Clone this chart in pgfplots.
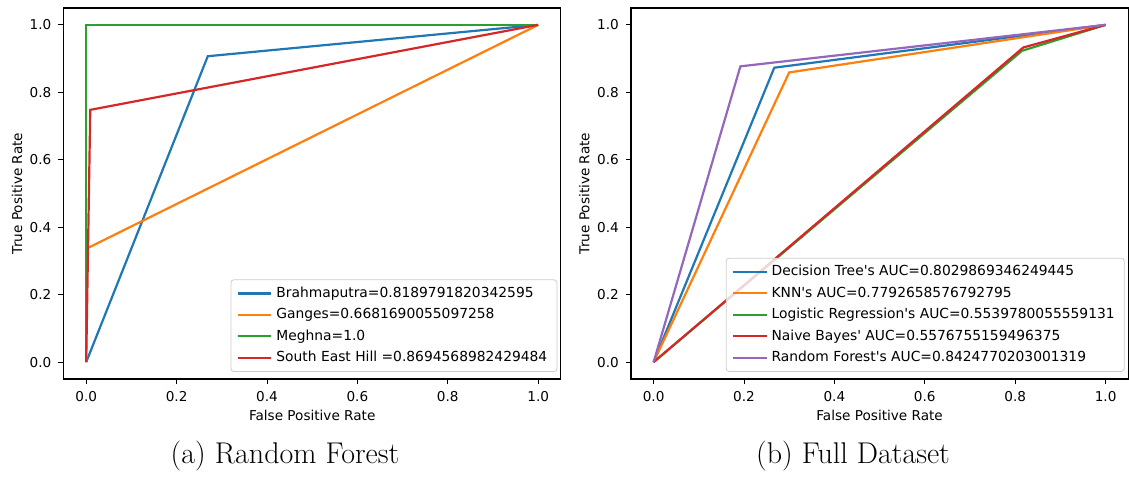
\documentclass[border=0pt]{standalone}
\usepackage{fontspec}
\usepackage{pgfplots}
\pgfplotsset{compat=1.18}
\newfontfamily\dv{DejaVu Sans}
\definecolor{c0}{HTML}{1F77B4}
\definecolor{c1}{HTML}{FF7F0E}
\definecolor{c2}{HTML}{2CA02C}
\definecolor{c3}{HTML}{D62728}
\definecolor{c4}{HTML}{9467BD}
\pgfplotsset{rocstyle/.style={
  scale only axis, width=248.6pt, height=185.5pt,
  xmin=-0.05, xmax=1.05, ymin=-0.05, ymax=1.05,
  xtick={0,0.2,0.4,0.6,0.8,1}, ytick={0,0.2,0.4,0.6,0.8,1},
  /pgf/number format/assume math mode=true,
  ticklabel style={font=\dv\fontsize{6.8}{8}\selectfont,
    /pgf/number format/fixed, /pgf/number format/fixed zerofill, /pgf/number format/precision=1},
  tick align=outside, xtick pos=bottom, ytick pos=left,
  major tick length=2.6pt,
  axis line style={line width=0.6pt},
  every tick/.style={black, line width=0.5pt},
  label style={font=\dv\fontsize{6.8}{8}\selectfont},
  xlabel style={at={(axis description cs:0.5,-0.097)}, anchor=center},
  ylabel style={at={(axis description cs:-0.0937,0.5)}, anchor=center},
  legend style={anchor=south east, font=\dv\fontsize{6.92}{8}\selectfont,
    draw=black!20, fill=white, fill opacity=0.8, text opacity=1, draw opacity=1,
    rounded corners=1.5pt, inner xsep=2.8pt, inner ysep=1.5pt, row sep=0pt,
    cells={anchor=west}},
  legend image code/.code={\draw[#1] (0pt,0pt) -- (14.5pt,0pt); \path (0pt,0pt) -- (16.8pt,0pt);},
  every axis plot/.append style={line width=1.1pt},
  clip=true,
}}
\begin{document}
\begin{tikzpicture}
\path[use as bounding box] (0,0) rectangle (564.5pt,240.5pt);
\begin{axis}[rocstyle, at={(31.8pt,51pt)}, anchor=south west,
  xlabel={False Positive Rate}, ylabel={True Positive Rate},
  legend style={at={(0.993,0.019)}}]
\addplot[c0] coordinates {(0,0) (0.269,0.907) (1,1)};
\addlegendentry{Brahmaputra=0.8189791820342595}
\addplot[c1] coordinates {(0,0) (0,0.336) (1,1)};
\addlegendentry{Ganges=0.6681690055097258}
\addplot[c2] coordinates {(0,0) (0,1) (1,1)};
\addlegendentry{Meghna=1.0}
\addplot[c3] coordinates {(0,0) (0.009,0.748) (1,1)};
\addlegendentry{South East Hill =0.8694568982429484}
\end{axis}
\begin{axis}[rocstyle, at={(315.5pt,51pt)}, anchor=south west,
  xlabel={False Positive Rate}, ylabel={True Positive Rate},
  legend style={at={(0.993,0.019)}}]
\addplot[c0] coordinates {(0,0) (0.267,0.873) (1,1)};
\addlegendentry{Decision Tree's AUC=0.8029869346249445}
\addplot[c1] coordinates {(0,0) (0.300,0.859) (1,1)};
\addlegendentry{KNN's AUC=0.7792658576792795}
\addplot[c2] coordinates {(0,0) (0.815,0.923) (1,1)};
\addlegendentry{Logistic Regression's AUC=0.5539780055559131}
\addplot[c3] coordinates {(0,0) (0.818,0.933) (1,1)};
\addlegendentry{Naive Bayes' AUC=0.5576755159496375}
\addplot[c4] coordinates {(0,0) (0.192,0.877) (1,1)};
\addlegendentry{Random Forest's AUC=0.8424770203001319}
\end{axis}
\node[font=\fontsize{15}{18}\selectfont, anchor=base] at (142.5pt,8.5pt) {(a) Random Forest};
\node[font=\fontsize{15}{18}\selectfont, anchor=base] at (426.5pt,8.5pt) {(b) Full Dataset};
\end{tikzpicture}
\end{document}
